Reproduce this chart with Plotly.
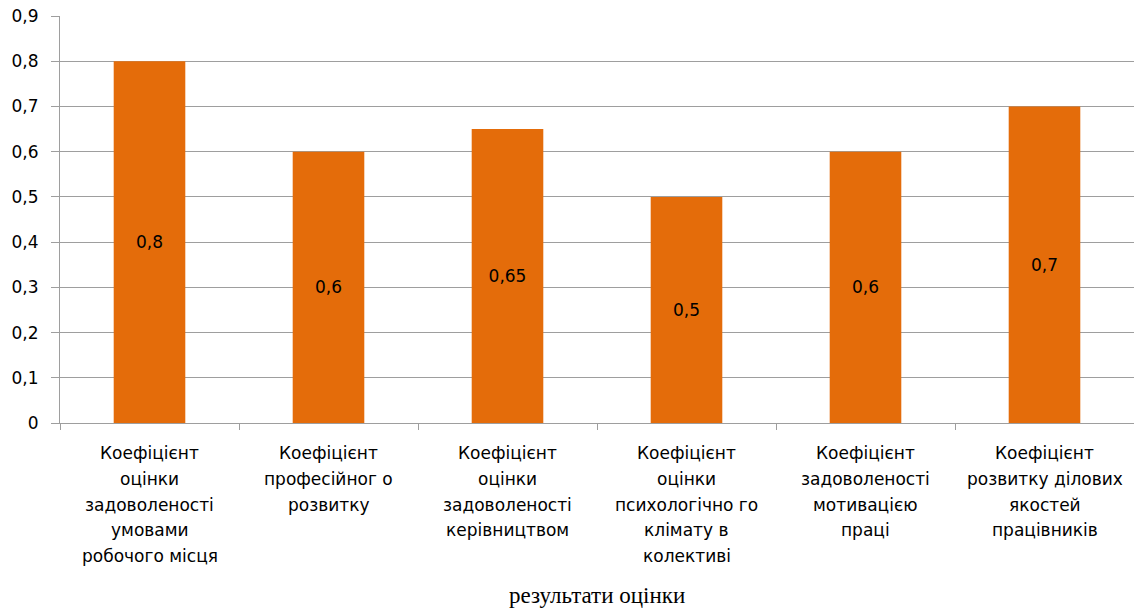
import plotly.graph_objects as go

# Коефіцієнти оцінки (назви категорій розбито на рядки)
categories = [
    ["Коефіцієнт", "оцінки", "задоволеності", "умовами", "робочого місця"],
    ["Коефіцієнт", "професійног о", "розвитку"],
    ["Коефіцієнт", "оцінки", "задоволеності", "керівництвом"],
    ["Коефіцієнт", "оцінки", "психологічно го", "клімату в", "колективі"],
    ["Коефіцієнт", "задоволеності", "мотивацією", "праці"],
    ["Коефіцієнт", "розвитку ділових", "якостей", "працівників"],
]
values = [0.8, 0.6, 0.65, 0.5, 0.6, 0.7]
y_ticks = [0, 0.1, 0.2, 0.3, 0.4, 0.5, 0.6, 0.7, 0.8, 0.9]
x_title = "результати оцінки"

keys = [" ".join(c) for c in categories]
labels = [str(v).replace(".", ",") for v in values]
tick_text = [str(t).replace(".", ",") if t else "0" for t in y_ticks]

BAR = "#E46C0A"
GRID = "#9E9E9E"
SANS = "DejaVu Sans, Verdana, sans-serif"

fig = go.Figure(
    go.Bar(
        x=keys,
        y=values,
        marker=dict(color=BAR, line=dict(width=0)),
        width=0.4,
        text=labels,
        textposition="inside",
        insidetextanchor="middle",
        textangle=0,
        textfont=dict(family=SANS, size=17, color="#000000"),
        hoverinfo="skip",
    )
)

# Підписи категорій під віссю, по рядку на анотацію
line_step = 25.8
for key, lines in zip(keys, categories):
    for i, line in enumerate(lines):
        fig.add_annotation(
            x=key, xref="x", y=0, yref="paper",
            text=line, showarrow=False,
            xanchor="center", yanchor="middle",
            yshift=-(30 + line_step * i),
            font=dict(family=SANS, size=17, color="#000000"),
        )

fig.add_annotation(
    x=0.5, xref="paper", y=0, yref="paper",
    text=x_title, showarrow=False,
    xanchor="center", yanchor="middle", yshift=-172,
    font=dict(family="Liberation Serif, Times New Roman, serif", size=23, color="#000000"),
)

fig.update_layout(
    width=1134, height=609,
    margin=dict(l=60, r=0, t=16, b=186),
    paper_bgcolor="white", plot_bgcolor="white",
    showlegend=False,
    bargap=0.6,
    uniformtext=dict(mode=False),
)
fig.update_xaxes(
    type="category",
    showticklabels=False,
    showgrid=False,
    showline=True, linecolor=GRID, linewidth=1,
    ticks="outside", tickson="boundaries", ticklen=6, tickcolor=GRID,
)
fig.update_yaxes(
    range=[0, 0.9],
    tickvals=y_ticks, ticktext=tick_text,
    showgrid=True, gridcolor=GRID, gridwidth=1,
    showline=True, linecolor=GRID, linewidth=1,
    ticks="outside", ticklen=8, tickcolor=GRID,
    zeroline=False,
    tickfont=dict(family=SANS, size=17, color="#000000"),
    ticklabelstandoff=9,
)

fig.write_html("out.html")
